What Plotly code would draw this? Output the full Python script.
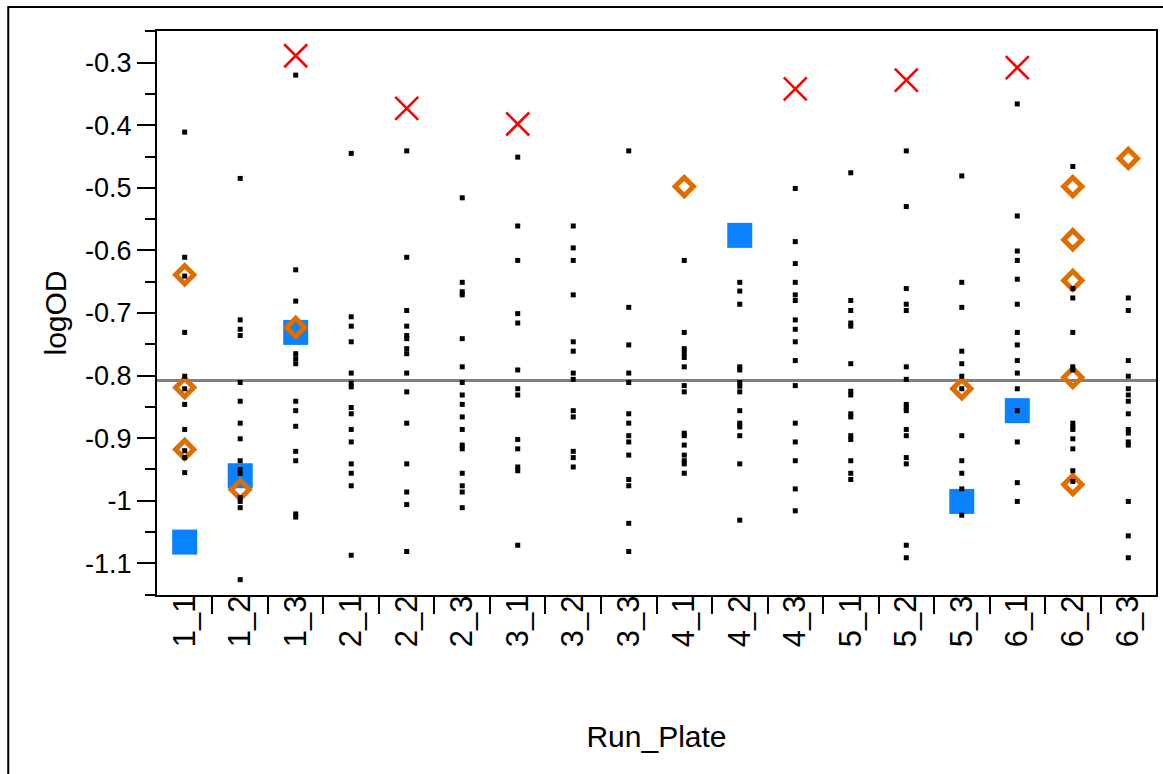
import plotly.graph_objects as go

# Run_Plate categories in plotting order
categories = ["1_1", "1_2", "1_3", "2_1", "2_2", "2_3", "3_1", "3_2", "3_3",
              "4_1", "4_2", "4_3", "5_1", "5_2", "5_3", "6_1", "6_2", "6_3"]

# Individual well logOD readings per run/plate
od_1_1 = [-0.411, -0.611, -0.641, -0.731, -0.801, -0.821, -0.846, -0.886, -0.920, -0.931, -0.955]
od_1_2 = [-0.485, -0.711, -0.726, -0.736, -0.811, -0.841, -0.876, -0.901, -0.936, -0.950, -0.956,
          -0.995, -1.001, -1.011, -1.126]
od_1_3 = [-0.320, -0.631, -0.681, -0.765, -0.773, -0.781, -0.841, -0.856, -0.881, -0.921, -0.936,
          -1.021, -1.026]
od_2_1 = [-0.445, -0.706, -0.721, -0.746, -0.796, -0.812, -0.818, -0.851, -0.861, -0.886, -0.906,
          -0.941, -0.956, -0.976, -1.087]
od_2_2 = [-0.441, -0.611, -0.696, -0.721, -0.736, -0.741, -0.757, -0.765, -0.796, -0.826, -0.876,
          -0.941, -0.986, -1.006, -1.081]
od_2_3 = [-0.516, -0.651, -0.666, -0.671, -0.741, -0.786, -0.811, -0.831, -0.846, -0.866, -0.886,
          -0.911, -0.917, -0.956, -0.976, -0.986, -1.011]
od_3_1 = [-0.451, -0.561, -0.616, -0.701, -0.716, -0.791, -0.821, -0.831, -0.902, -0.917, -0.946,
          -0.952, -1.071]
od_3_2 = [-0.561, -0.596, -0.616, -0.671, -0.746, -0.761, -0.796, -0.806, -0.856, -0.866, -0.921,
          -0.931, -0.946]
od_3_3 = [-0.441, -0.691, -0.751, -0.796, -0.811, -0.861, -0.876, -0.896, -0.906, -0.927, -0.966,
          -0.976, -1.036, -1.081]
od_4_1 = [-0.616, -0.731, -0.757, -0.764, -0.771, -0.786, -0.816, -0.826, -0.892, -0.896, -0.911,
          -0.927, -0.936, -0.941, -0.956]
od_4_2 = [-0.651, -0.665, -0.686, -0.786, -0.791, -0.811, -0.817, -0.826, -0.856, -0.876, -0.882,
          -0.896, -0.941, -1.031]
od_4_3 = [-0.501, -0.586, -0.621, -0.651, -0.671, -0.680, -0.711, -0.726, -0.746, -0.776, -0.816,
          -0.876, -0.906, -0.936, -0.981, -1.016]
od_5_1 = [-0.476, -0.680, -0.696, -0.716, -0.721, -0.781, -0.825, -0.831, -0.861, -0.866, -0.896,
          -0.902, -0.936, -0.956, -0.966]
od_5_2 = [-0.441, -0.530, -0.661, -0.686, -0.696, -0.786, -0.806, -0.846, -0.851, -0.856, -0.886,
          -0.896, -0.931, -0.941, -1.071, -1.091]
od_5_3 = [-0.481, -0.651, -0.691, -0.761, -0.781, -0.801, -0.821, -0.896, -0.936, -0.956, -0.981,
          -1.023]
od_6_1 = [-0.366, -0.545, -0.601, -0.616, -0.646, -0.686, -0.731, -0.751, -0.776, -0.796, -0.821,
          -0.856, -0.906, -0.971, -1.001]
od_6_2 = [-0.466, -0.661, -0.676, -0.731, -0.786, -0.791, -0.876, -0.882, -0.886, -0.901, -0.917,
          -0.952, -0.969]
od_6_3 = [-0.676, -0.696, -0.776, -0.801, -0.821, -0.831, -0.841, -0.861, -0.886, -0.892, -0.906,
          -0.911, -1.001, -1.056, -1.091]

well_values = [od_1_1, od_1_2, od_1_3, od_2_1, od_2_2, od_2_3, od_3_1, od_3_2, od_3_3,
               od_4_1, od_4_2, od_4_3, od_5_1, od_5_2, od_5_3, od_6_1, od_6_2, od_6_3]

# Flagged points drawn with their own symbols
cross_cats = ["1_3", "2_2", "3_1", "4_3", "5_2", "6_1"]
cross_vals = [-0.289, -0.373, -0.398, -0.342, -0.328, -0.308]

square_cats = ["1_1", "1_2", "1_3", "4_2", "5_3", "6_1"]
square_vals = [-1.066, -0.960, -0.731, -0.576, -1.001, -0.856]

diamond_cats = ["1_1", "1_1", "1_1", "1_2", "1_3", "4_1", "5_3",
                "6_2", "6_2", "6_2", "6_2", "6_2", "6_3"]
diamond_vals = [-0.639, -0.819, -0.918, -0.982, -0.723, -0.498, -0.821,
                -0.498, -0.583, -0.648, -0.803, -0.974, -0.453]

# Overall mean reference line
mean_logod = -0.808

# Y tick labels (plain hyphen minus)
y_tickvals = [-1.1, -1.0, -0.9, -0.8, -0.7, -0.6, -0.5, -0.4, -0.3]
y_ticktext = ["-1.1", "-1", "-0.9", "-0.8", "-0.7", "-0.6", "-0.5", "-0.4", "-0.3"]
y_minorvals = [-1.15, -1.05, -0.95, -0.85, -0.75, -0.65, -0.55, -0.45, -0.35, -0.25]

FONT = "Liberation Sans, Arial, sans-serif"

well_x = []
well_y = []
for cat, vals in zip(categories, well_values):
    well_x.extend([cat] * len(vals))
    well_y.extend(vals)

fig = go.Figure()

fig.add_trace(go.Scatter(
    x=square_cats, y=square_vals, mode="markers",
    marker=dict(symbol="square", size=25, color="#0A82FF", line=dict(width=0)),
    showlegend=False, hoverinfo="x+y",
))

fig.add_trace(go.Scatter(
    x=diamond_cats, y=diamond_vals, mode="markers",
    marker=dict(symbol="diamond-open", size=14, color="#E06D00", line=dict(width=5, color="#E06D00")),
    showlegend=False, hoverinfo="x+y",
))

fig.add_trace(go.Scatter(
    x=well_x, y=well_y, mode="markers",
    marker=dict(symbol="square", size=5, color="black", line=dict(width=0)),
    showlegend=False, hoverinfo="x+y",
))

fig.add_trace(go.Scatter(
    x=cross_cats, y=cross_vals, mode="markers",
    marker=dict(symbol="x-thin-open", size=23, color="#FF0000", line=dict(width=2.6, color="#FF0000")),
    showlegend=False, hoverinfo="x+y",
))

# mean line across the plot
fig.add_shape(type="line", xref="paper", x0=0, x1=1, yref="y", y0=mean_logod, y1=mean_logod,
              line=dict(color="#808080", width=3), layer="below")

# outer frame around the whole graph
fig.add_shape(type="rect", xref="paper", yref="paper",
              x0=-0.1489, x1=1.05, y0=-0.5, y1=1.0426,
              line=dict(color="black", width=2), fillcolor="rgba(0,0,0,0)")

fig.update_layout(
    width=1163, height=774,
    margin=dict(l=157, r=5, t=31, b=179),
    paper_bgcolor="white", plot_bgcolor="white",
    font=dict(family=FONT, color="black"),
    showlegend=False,
)

fig.update_xaxes(
    type="category", categoryorder="array", categoryarray=categories,
    range=[-0.499, len(categories) - 0.501],
    tickson="boundaries", ticks="outside", ticklen=17, tickwidth=2, tickcolor="black",
    tickangle=-90, tickfont=dict(size=31, family=FONT),
    ticklabelstandoff=-14,
    showline=True, linewidth=2, linecolor="black", mirror=True,
    showgrid=False, zeroline=False,
    title=dict(text="Run_Plate", font=dict(size=30, family=FONT), standoff=80),
)

fig.update_yaxes(
    range=[-1.1505, -0.2495],
    tickmode="array", tickvals=y_tickvals, ticktext=y_ticktext,
    ticks="outside", ticklen=18, tickwidth=2, tickcolor="black",
    tickfont=dict(size=27, family=FONT),
    minor=dict(tickmode="array", tickvals=y_minorvals, ticks="outside",
               ticklen=10, tickwidth=2, tickcolor="black", showgrid=False),
    showline=True, linewidth=2, linecolor="black", mirror=True,
    showgrid=False, zeroline=False,
    title=dict(text="logOD", font=dict(size=30, family=FONT), standoff=10),
)

fig.write_html("out.html")
